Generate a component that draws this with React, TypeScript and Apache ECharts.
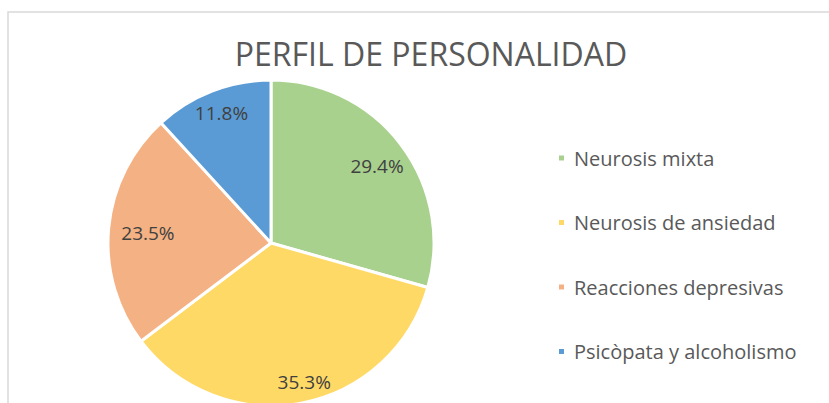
import React, { useEffect, useRef } from "react";
import * as echarts from "echarts";

const categories = ["Neurosis mixta", "Neurosis de ansiedad", "Reacciones depresivas", "Psicòpata y alcoholismo"];
const percentages = [29.4, 35.3, 23.5, 11.8];
const colors = ["#a9d18e", "#ffd966", "#f4b183", "#5b9bd5"];
const labelNudges = [[-3, 5], [8, 5], [13, 2], [0, -3]];
const titleText = "PERFIL DE PERSONALIDAD";

export default function App() {
  const ref = useRef<HTMLDivElement>(null);
  useEffect(() => {
    if (!ref.current) return;
    const chart = echarts.init(ref.current, null, { renderer: "svg" });
    const R = 163;
    const data = categories.map((name, i) => ({ name, value: percentages[i], itemStyle: { color: colors[i] } }));
    chart.setOption({
      animation: false,
      backgroundColor: "#ffffff",
      title: {
        text: titleText,
        left: 426,
        textAlign: "center",
        top: 32,
        textStyle: { fontFamily: "Open Sans", fontSize: 32, fontWeight: "normal", color: "#595959" },
      },
      graphic: [
        {
          type: "rect",
          shape: { x: 8, y: 12, width: 900, height: 500 },
          style: { fill: "none", stroke: "#d9d9d9", lineWidth: 1.5 },
          silent: true,
          z: -1,
        },
      ],
      legend: {
        orient: "vertical",
        left: 557,
        top: 146,
        padding: 0,
        itemWidth: 7,
        itemHeight: 7,
        itemGap: 40.5,
        icon: "rect",
        data: categories,
        textStyle: { fontFamily: "Open Sans", fontSize: 20, color: "#595959", lineHeight: 24, padding: [0, 0, 0, 4] },
      },
      series: [
        {
          type: "pie",
          center: [271, 243],
          radius: R,
          startAngle: 90,
          clockwise: true,
          data,
          itemStyle: { borderColor: "#ffffff", borderWidth: 3 },
          label: { show: false },
          labelLine: { show: false },
          silent: true,
        },
        {
          type: "pie",
          center: [271, 243],
          radius: [R * 0.64, R],
          startAngle: 90,
          clockwise: true,
          data: categories.map((name, i) => ({ name, value: percentages[i], label: { offset: labelNudges[i] } })),
          itemStyle: { color: "rgba(0,0,0,0)", borderWidth: 0 },
          label: {
            show: true,
            position: "inside",
            formatter: (p: any) => p.value.toFixed(1) + "%",
            fontFamily: "Open Sans",
            fontSize: 19,
            color: "#404040",
          },
          labelLine: { show: false },
          silent: true,
          legendHoverLink: false,
        },
      ],
    });
    return () => chart.dispose();
  }, []);
  return <div ref={ref} style={{ position: "absolute", left: 0, top: 0, width: 829, height: 403 }} />;
}
